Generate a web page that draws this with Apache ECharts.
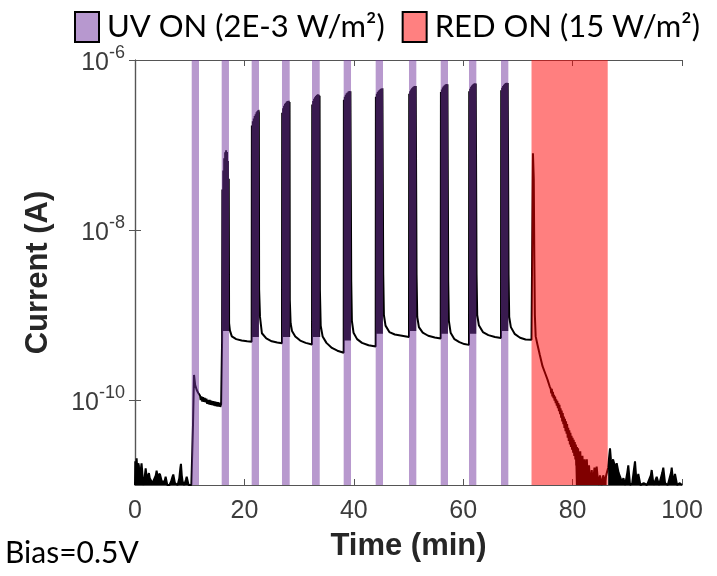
<!DOCTYPE html>
<html>
<head>
<meta charset="utf-8">
<script src="https://cdn.jsdelivr.net/npm/echarts@6/dist/echarts.min.js"></script>
<style>html,body{margin:0;padding:0;background:#fff}#c{width:717px;height:576px}</style>
</head>
<body>
<div id="c"></div>
<script>
// ---- axis ticks ----
const xTicks = [0, 20, 40, 60, 80, 100];
const yTickValues = [1e-10, 1e-8, 1e-6];
const yMin = 1e-11, yMax = 1e-6;

// ---- illumination windows (min) ----
const uvStart = [10.37, 15.85, 21.33, 26.87, 32.36, 38.15, 44.0, 50.09, 55.89, 61.06, 66.91];
const uvEnd   = [11.70, 17.18, 22.67, 28.28, 33.77, 39.49, 45.34, 51.43, 57.22, 62.40, 68.25];
const redStart = [72.49];
const redEnd   = [86.42];

// ---- current trace [time (min), current (A)] ----
const darkBefore = [[0,1.0e-11],[0.05,1.9e-11],[0.15,1.4e-11],[0.3,2.06e-11],[0.4,1.5e-11],[0.5,1.3e-11],[0.6,1.8e-11],[0.7,1.7e-11],[0.9,1.1e-11],[1.1,1.6e-11],[1.2,1.8e-11],[1.3,1.5e-11],[1.4,1.2e-11],[1.6,1.0e-11],[1.8,1.3e-11],[1.95,1.57e-11],[2.1,1.3e-11],[2.2,1.1e-11],[2.4,1.3e-11],[2.55,1.38e-11],[2.7,1.2e-11],[2.9,1.15e-11],[3.2,1.05e-11],[3.5,1.0e-11],[3.8,1.3e-11],[3.95,1.47e-11],[4.1,1.3e-11],[4.3,1.3e-11],[4.55,1.35e-11],[4.9,1.1e-11],[5.2,1.15e-11],[5.4,1.1e-11],[5.6,1.25e-11],[5.9,1.0e-11],[6.3,1.0e-11],[6.6,1.1e-11],[6.85,1.25e-11],[7.0,1.33e-11],[7.3,1.05e-11],[7.8,1.0e-11],[8.1,1.2e-11],[8.3,1.6e-11],[8.4,1.77e-11],[8.55,1.3e-11],[8.7,1.1e-11],[9.0,1.0e-11],[9.3,1.15e-11],[9.45,1.25e-11],[9.8,1.0e-11],[10.3,1.0e-11]];
const pulse1 = [[10.37,1.0e-11],[10.6,5e-11],[10.79,1.97e-10],[11.0,1.5e-10],[11.3,1.3e-10],[11.57,1.21e-10],[11.9,1.12e-10],[12.0,1.0e-10],[12.15,1.1e-10],[12.3,9.6e-11],[12.45,1.08e-10],[12.6,9.5e-11],[12.75,1.06e-10],[12.9,9.4e-11],[13.05,1.04e-10],[13.2,9.0e-11],[13.35,1.0e-10],[13.5,8.9e-11],[13.65,1.0e-10],[13.8,8.8e-11],[13.95,9.8e-11],[14.1,8.7e-11],[14.25,9.7e-11],[14.4,8.6e-11],[14.55,9.6e-11],[14.7,8.5e-11],[14.85,9.5e-11],[15.0,8.4e-11],[15.15,9.4e-11],[15.3,8.4e-11],[15.45,9.3e-11],[15.6,8.3e-11],[15.75,9.0e-11],[15.85,8.8e-11]];
const pulse2 = [[15.92,5e-10],[15.97,3.0e-8],[16.05,6.5e-10],[16.14,5.0e-8],[16.22,6.5e-10],[16.31,7.0e-8],[16.39,6.5e-10],[16.48,8.2e-8],[16.56,6.5e-10],[16.65,8.7e-8],[16.73,6.5e-10],[16.82,8.3e-8],[16.9,6.5e-10],[16.99,6.5e-8],[17.07,6.5e-10],[17.14,4.0e-8],[17.2,8e-10],[17.35,6.6e-10],[17.7,5.6e-10],[18.5,5.2e-10],[19.5,5.0e-10],[20.5,4.9e-10],[21.33,4.85e-10]];
const pulse3 = [[21.37,1.7e-7],[21.45,5.5e-10],[21.54,1.9e-7],[21.62,5.5e-10],[21.71,2.05e-7],[21.79,5.5e-10],[21.88,2.2e-7],[21.96,5.5e-10],[22.05,2.3e-7],[22.13,5.5e-10],[22.22,2.42e-7],[22.3,5.5e-10],[22.39,2.52e-7],[22.47,5.5e-10],[22.56,2.58e-7],[22.64,2.4e-7],[22.69,2e-9],[22.85,9.5e-10],[23.2,6.1e-10],[24.0,5.3e-10],[25.0,4.9e-10],[26.0,4.75e-10],[26.87,4.65e-10]];
const pulse4 = [[26.91,2.4e-7],[26.99,5.5e-10],[27.08,2.7e-7],[27.16,5.5e-10],[27.25,2.9e-7],[27.33,5.5e-10],[27.42,3.05e-7],[27.5,5.5e-10],[27.59,3.15e-7],[27.67,5.5e-10],[27.76,3.25e-7],[27.84,5.5e-10],[27.93,3.3e-7],[28.01,5.5e-10],[28.1,3.32e-7],[28.18,5.5e-10],[28.25,3.2e-7],[28.3,1.5e-9],[28.45,8e-10],[28.7,6.5e-10],[29.3,5.6e-10],[30.2,5.0e-10],[31.2,4.7e-10],[32.36,4.5e-10]];
const pulse5 = [[32.40,3.0e-7],[32.48,5.5e-10],[32.57,3.3e-7],[32.65,5.5e-10],[32.74,3.5e-7],[32.82,5.5e-10],[32.91,3.65e-7],[32.99,5.5e-10],[33.08,3.78e-7],[33.16,5.5e-10],[33.25,3.88e-7],[33.33,5.5e-10],[33.42,3.95e-7],[33.50,5.5e-10],[33.59,3.9e-7],[33.67,5.5e-10],[33.74,3.8e-7],[33.8,2e-9],[33.95,7.5e-10],[34.3,5.6e-10],[35.0,4.7e-10],[36.0,4.1e-10],[37.0,3.8e-10],[38.15,3.6e-10]];
const pulse6 = [[38.19,3.4e-7],[38.27,5e-10],[38.36,3.7e-7],[38.44,5e-10],[38.53,3.9e-7],[38.61,5e-10],[38.70,4.05e-7],[38.78,5e-10],[38.87,4.15e-7],[38.95,5e-10],[39.04,4.25e-7],[39.12,5e-10],[39.21,4.32e-7],[39.29,5e-10],[39.38,4.3e-7],[39.46,4.2e-7],[39.53,2.5e-9],[39.65,8.5e-10],[39.95,6.2e-10],[40.6,5.2e-10],[41.5,4.7e-10],[42.7,4.4e-10],[44.0,4.25e-10]];
const pulse7 = [[44.04,3.7e-7],[44.12,6e-10],[44.21,4.0e-7],[44.29,6e-10],[44.38,4.2e-7],[44.46,6e-10],[44.55,4.35e-7],[44.63,6e-10],[44.72,4.45e-7],[44.80,6e-10],[44.89,4.55e-7],[44.97,6e-10],[45.06,4.62e-7],[45.14,6e-10],[45.23,4.65e-7],[45.31,4.5e-7],[45.38,3e-9],[45.5,1.0e-9],[45.8,7.5e-10],[46.5,6.3e-10],[47.5,5.9e-10],[48.8,5.7e-10],[50.09,5.5e-10]];
const pulse8 = [[50.13,4.0e-7],[50.21,6.5e-10],[50.30,4.3e-7],[50.38,6.5e-10],[50.47,4.5e-7],[50.55,6.5e-10],[50.64,4.65e-7],[50.72,6.5e-10],[50.81,4.78e-7],[50.89,6.5e-10],[50.98,4.88e-7],[51.06,6.5e-10],[51.15,4.95e-7],[51.23,6.5e-10],[51.32,4.93e-7],[51.40,4.8e-7],[51.47,3e-9],[51.6,9.5e-10],[51.9,7.2e-10],[52.6,6.2e-10],[53.6,5.7e-10],[54.8,5.45e-10],[55.89,5.3e-10]];
const pulse9 = [[55.93,4.2e-7],[56.01,6e-10],[56.10,4.5e-7],[56.18,6e-10],[56.27,4.75e-7],[56.35,6e-10],[56.44,4.9e-7],[56.52,6e-10],[56.61,5.05e-7],[56.69,6e-10],[56.78,5.15e-7],[56.86,6e-10],[56.95,5.22e-7],[57.03,6e-10],[57.12,5.2e-7],[57.19,5.0e-7],[57.26,2.5e-9],[57.38,8.5e-10],[57.7,6.2e-10],[58.4,5.2e-10],[59.3,4.8e-10],[60.2,4.55e-10],[61.06,4.45e-10]];
const pulse10 = [[61.10,4.3e-7],[61.18,6e-10],[61.27,4.6e-7],[61.35,6e-10],[61.44,4.85e-7],[61.52,6e-10],[61.61,5.0e-7],[61.69,6e-10],[61.78,5.15e-7],[61.86,6e-10],[61.95,5.25e-7],[62.03,6e-10],[62.12,5.32e-7],[62.20,6e-10],[62.29,5.3e-7],[62.37,5.1e-7],[62.44,3e-9],[62.56,1.0e-9],[62.86,7.6e-10],[63.6,6.3e-10],[64.6,5.8e-10],[65.8,5.5e-10],[66.91,5.35e-10]];
const pulse11 = [[66.95,4.4e-7],[67.03,6.5e-10],[67.12,4.7e-7],[67.20,6.5e-10],[67.29,4.95e-7],[67.37,6.5e-10],[67.46,5.1e-7],[67.54,6.5e-10],[67.63,5.25e-7],[67.71,6.5e-10],[67.80,5.35e-7],[67.88,6.5e-10],[67.97,5.41e-7],[68.05,6.5e-10],[68.14,5.38e-7],[68.22,5.2e-7],[68.29,3e-9],[68.41,9.5e-10],[68.71,7.2e-10],[69.4,6.0e-10],[70.4,5.4e-10],[71.4,5.15e-10],[72.49,5.1e-10]];
const redDecay = [[72.6,5e-9],[72.75,7.98e-8],[72.9,4e-8],[73.0,5e-9],[73.1,1.0e-9],[73.25,5.6e-10],[73.6,4.4e-10],[74.0,3.4e-10],[74.5,2.5e-10],[75.0,2.05e-10],[75.4,1.75e-10],[75.8,1.45e-10],[76.0,1.35e-10],[76.1,1.2e-10],[76.2,1.35e-10],[76.3,1.1e-10],[76.4,1.25e-10],[76.5,1.05e-10],[76.6,1.15e-10],[76.7,9.8e-11],[76.8,1.1e-10],[76.9,9.2e-11],[77.0,1.02e-10],[77.1,8.6e-11],[77.2,9.8e-11],[77.3,8.0e-11],[77.4,9.2e-11],[77.5,7.4e-11],[77.6,8.8e-11],[77.7,6.8e-11],[77.8,8.0e-11],[77.9,6.2e-11],[78.0,7.5e-11],[78.1,5.6e-11],[78.2,7.0e-11],[78.3,5.2e-11],[78.4,6.4e-11],[78.5,4.7e-11],[78.6,6.0e-11],[78.7,4.3e-11],[78.8,5.6e-11],[78.9,4.0e-11],[79.0,5.2e-11],[79.1,3.6e-11],[79.2,4.7e-11],[79.3,3.3e-11],[79.4,4.4e-11],[79.5,3.0e-11],[79.6,4.1e-11],[79.7,2.8e-11],[79.8,3.8e-11],[79.9,2.6e-11],[80.0,3.6e-11],[80.1,2.4e-11],[80.2,3.4e-11],[80.3,2.2e-11],[80.4,3.2e-11]];
const redTail = [[80.5,2.0e-11],[80.6,3.0e-11],[80.7,1.7e-11],[80.8,2.8e-11],[80.9,1.5e-11],[81.0,2.7e-11],[81.2,1.3e-11],[81.4,2.5e-11],[81.6,1.2e-11],[81.8,2.2e-11],[82.0,1.1e-11],[82.2,2.0e-11],[82.4,1.0e-11],[82.6,2.0e-11],[82.8,1.0e-11],[83.0,1.7e-11],[83.2,1.0e-11],[83.5,1.5e-11],[83.7,1.0e-11],[84.0,1.6e-11],[84.2,1.0e-11],[84.4,1.65e-11],[84.7,1.0e-11],[85.0,1.3e-11],[85.3,1.0e-11],[85.6,1.3e-11],[85.9,1.1e-11],[86.2,1.35e-11]];
const darkAfter = [[86.5,1.6e-11],[86.7,2.2e-11],[86.84,2.7e-11],[87.0,2.0e-11],[87.1,1.8e-11],[87.4,2.0e-11],[87.7,1.7e-11],[87.9,1.6e-11],[88.06,1.8e-11],[88.4,1.4e-11],[88.7,1.35e-11],[89.0,1.1e-11],[89.3,1.2e-11],[89.6,1.0e-11],[90.0,1.4e-11],[90.18,1.7e-11],[90.5,1.0e-11],[90.9,1.05e-11],[91.2,1.5e-11],[91.41,1.9e-11],[91.7,1.05e-11],[92.01,1.35e-11],[92.4,1.0e-11],[93.0,1.05e-11],[93.6,1.0e-11],[94.3,1.3e-11],[94.46,1.5e-11],[94.8,1.0e-11],[95.37,1.25e-11],[95.8,1.0e-11],[96.4,1.4e-11],[96.58,1.6e-11],[96.9,1.05e-11],[97.4,1.0e-11],[98.0,1.4e-11],[98.12,1.6e-11],[98.4,1.05e-11],[98.72,1.35e-11],[99.1,1.0e-11],[99.6,1.05e-11],[100,1.0e-11]];

const trace = [].concat(darkBefore, pulse1, pulse2, pulse3, pulse4, pulse5, pulse6, pulse7, pulse8, pulse9, pulse10, pulse11, redDecay, redTail, darkAfter);
// noise-floor parts drawn filled down to the axis (gaps break the fill)
const floorNoise = [].concat(darkBefore, [[10.32, '-']], redTail, [[86.3, '-']], darkAfter);

const UV_NAME = 'UV ON (2E-3 W/m\u00B2)';
const RED_NAME = 'RED ON (15 W/m\u00B2)';
const uvBands = uvStart.map((s, i) => [s, uvEnd[i], yMax, yMin]);
const redBands = redStart.map((s, i) => [s, redEnd[i], yMax, yMin]);

function bandRenderer(fill) {
  return function (params, api) {
    const p0 = api.coord([api.value(0), api.value(2)]);
    const p1 = api.coord([api.value(1), api.value(3)]);
    return { type: 'rect', shape: { x: p0[0], y: p0[1], width: p1[0] - p0[0], height: p1[1] - p0[1] }, style: { fill: fill } };
  };
}

const axisColor = '#555';
const labelColor = '#3c3c3c';
const chart = echarts.init(document.getElementById('c'), null, { renderer: 'canvas' });
chart.setOption({
  animation: false,
  backgroundColor: '#fff',
  grid: { left: 135, right: 35, top: 60, bottom: 91 },
  legend: {
    left: 74, top: 11, padding: 0, itemWidth: 24, itemHeight: 30, itemGap: 17,
    icon: 'rect',
    textStyle: { fontFamily: 'Lato', fontSize: 31, color: '#000', padding: [0, 0, 0, 3] },
    data: [
      { name: UV_NAME, itemStyle: { color: '#b798cf', borderColor: '#000', borderWidth: 2 } },
      { name: RED_NAME, itemStyle: { color: '#ff8080', borderColor: '#000', borderWidth: 2 } }
    ]
  },
  xAxis: [{
    type: 'value', min: 0, max: 100, interval: 20, position: 'bottom',
    name: 'Time (min)', nameLocation: 'middle', nameGap: 46,
    nameTextStyle: { fontFamily: 'Liberation Sans', fontWeight: 'bold', fontSize: 31, color: '#262626' },
    axisLine: { show: true, lineStyle: { color: axisColor, width: 1.2 } },
    axisTick: { show: true, inside: true, length: 6, lineStyle: { color: axisColor } },
    axisLabel: { fontFamily: 'Liberation Sans', fontSize: 25, color: labelColor, margin: 14, customValues: xTicks },
    splitLine: { show: false }
  }, {
    type: 'value', min: 0, max: 100, interval: 20, position: 'top',
    axisLine: { show: true, onZero: false, lineStyle: { color: axisColor, width: 1.2 } },
    axisTick: { show: true, inside: true, length: 6, lineStyle: { color: axisColor } },
    axisLabel: { show: false }, splitLine: { show: false }
  }],
  yAxis: [{
    type: 'log', logBase: 10, min: yMin, max: yMax, position: 'left',
    name: 'Current (A)', nameLocation: 'middle', nameGap: 81,
    nameTextStyle: { fontFamily: 'Liberation Sans', fontWeight: 'bold', fontSize: 31, color: '#262626' },
    axisLine: { show: true, lineStyle: { color: axisColor, width: 1.2 } },
    axisTick: { show: true, inside: true, length: 6, lineStyle: { color: axisColor }, customValues: yTickValues },
    axisLabel: {
      margin: 10, customValues: yTickValues,
      formatter: function (v) { return '{b|10}{s|' + Math.round(Math.log10(v)) + '}'; },
      rich: {
        b: { fontFamily: 'Liberation Sans', fontSize: 25, color: labelColor, lineHeight: 32, verticalAlign: 'bottom' },
        s: { fontFamily: 'Liberation Sans', fontSize: 18, color: labelColor, lineHeight: 14, verticalAlign: 'top' }
      }
    },
    splitLine: { show: false }
  }, {
    type: 'log', logBase: 10, min: yMin, max: yMax, position: 'right',
    axisLine: { show: true, lineStyle: { color: axisColor, width: 1.2 } },
    axisTick: { show: true, inside: true, length: 6, lineStyle: { color: axisColor }, customValues: yTickValues },
    axisLabel: { show: false }, splitLine: { show: false }
  }],
  series: [{
    type: 'line', name: 'current', data: trace, xAxisIndex: 0, yAxisIndex: 0,
    showSymbol: false, symbol: 'none', clip: true, z: 2,
    lineStyle: { color: '#000', width: 2 }
  }, {
    type: 'line', name: 'floor', data: floorNoise, xAxisIndex: 0, yAxisIndex: 0,
    showSymbol: false, symbol: 'none', clip: true, z: 2, connectNulls: false,
    lineStyle: { width: 0, color: '#000' },
    areaStyle: { color: '#000', opacity: 1, origin: 'start' }
  }, {
    type: 'custom', name: UV_NAME, data: uvBands, xAxisIndex: 0, yAxisIndex: 0, z: 3, clip: true,
    encode: { x: [0, 1], y: [2, 3] }, itemStyle: { color: '#b798cf' },
    renderItem: bandRenderer('rgba(114,51,157,0.5)')
  }, {
    type: 'custom', name: RED_NAME, data: redBands, xAxisIndex: 0, yAxisIndex: 0, z: 3, clip: true,
    encode: { x: [0, 1], y: [2, 3] }, itemStyle: { color: '#ff8080' },
    renderItem: bandRenderer('rgba(255,0,0,0.5)')
  }],
  graphic: [{
    type: 'text', left: 5, top: 538,
    style: { text: 'Bias=0.5V', font: '30px Lato', fill: '#000' }
  }]
});
</script>
</body>
</html>
